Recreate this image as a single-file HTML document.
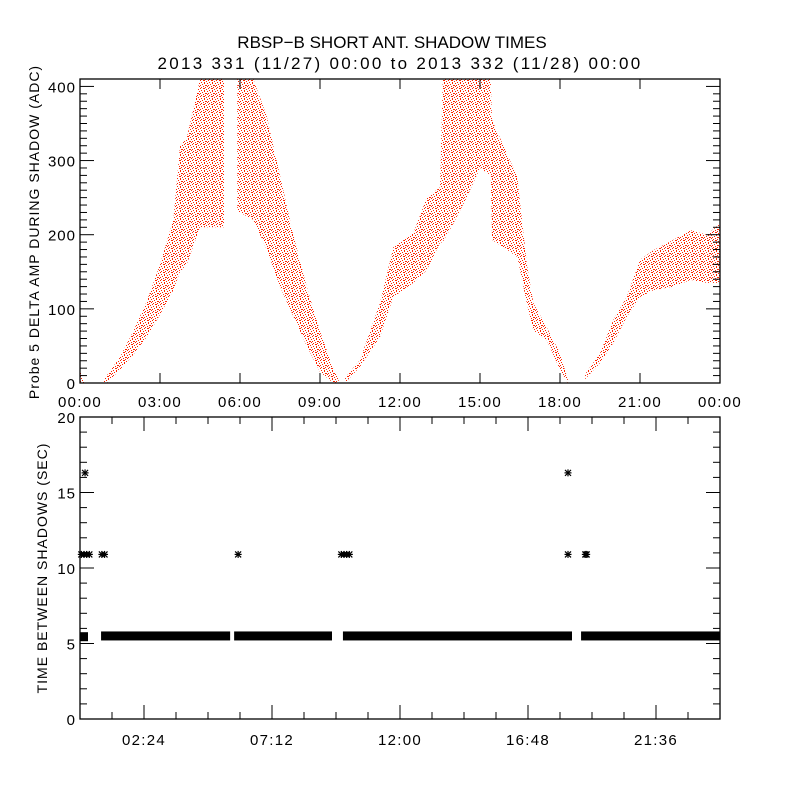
<!DOCTYPE html>
<html><head><meta charset="utf-8"><style>
html,body{margin:0;padding:0;background:#fff;}
svg{display:block;font-family:"Liberation Sans",sans-serif;}
</style></head><body>
<svg id="chart" width="800" height="800" viewBox="0 0 800 800" xmlns="http://www.w3.org/2000/svg">
<defs>
<pattern id="dots" width="8" height="8" patternUnits="userSpaceOnUse">
<g fill="rgb(255,35,0)">
<rect x="0" y="0" width="1" height="1"/><rect x="3" y="0" width="2" height="1"/>
<rect x="6" y="1" width="1" height="1"/><rect x="1" y="2" width="1" height="1"/>
<rect x="4" y="2" width="1" height="2"/><rect x="7" y="3" width="1" height="1"/>
<rect x="2" y="4" width="1" height="1"/><rect x="5" y="5" width="2" height="1"/>
<rect x="0" y="5" width="1" height="1"/><rect x="3" y="6" width="1" height="1"/>
<rect x="7" y="6" width="1" height="1"/><rect x="1" y="7" width="1" height="1"/>
<rect x="5" y="7" width="1" height="1"/>
</g>
</pattern>
</defs>
<text x="392" y="48" font-size="17" text-anchor="middle">RBSP−B SHORT ANT. SHADOW TIMES</text>
<text x="400" y="69" font-size="17" letter-spacing="2.3" text-anchor="middle">2013 331 (11/27) 00:00 to 2013 332 (11/28) 00:00</text>
<g id="topPanel"></g>
<g id="botPanel"></g>
</svg>
<script>
// ---- top panel data (hours, ADC) ----
const seg1T=[0,0.08,0.15];
const seg1Lo=[0,0,0];
const seg1Hi=[15,12,4];
const seg2T=[0.9,1.0,1.5,2.0,2.5,3.0,3.5,3.75,4.0,4.5,5.0,5.4];
const seg2Lo=[0,0,18,38,62,92,125,150,160,210,210,210];
const seg2Hi=[5,10,35,70,110,160,220,320,330,410,410,410];
const seg3T=[5.9,6.0,6.5,7.0,7.5,8.0,8.5,9.0,9.5,9.7];
const seg3Lo=[230,230,220,180,130,90,50,15,0,0];
const seg3Hi=[410,410,410,360,280,200,130,70,20,5];
const seg4T=[9.94,10.5,11.25,11.75,12.5,13.0,13.5,13.6,14.0,14.5,15.0,15.4,15.45,16.0,16.4,16.75,17.0,17.5,18.0,18.3];
const seg4Lo=[0,22,62,116,135,152,189,190,215,250,290,280,193,180,170,108,71,58,18,0];
const seg4Hi=[7,31,108,183,202,250,264,410,410,410,410,410,355,310,278,162,108,75,40,4];
const seg5T=[18.94,19.5,20.0,20.5,21.0,21.5,22.25,22.9,23.5,24.0];
const seg5Lo=[5,27,54,89,116,125,130,139,135,135];
const seg5Hi=[12,40,85,116,166,179,193,206,200,215];
const topYTicks=[0,100,200,300,400];
const topXLabels=["00:00","03:00","06:00","09:00","12:00","15:00","18:00","21:00","00:00"];
// ---- bottom panel data ----
const bandStart=[0,0.79,5.78,9.86,18.79];
const bandEnd=[0.3,5.63,9.45,18.45,24];
const bandValue=[5.45,5.5,5.5,5.5,5.5];
const outT=[0.19,0.05,0.15,0.25,0.35,0.82,0.92,5.93,9.8,9.9,10.0,10.1,18.3,18.3,18.95,19.0];
const outV=[16.3,10.9,10.9,10.9,10.9,10.9,10.9,10.9,10.9,10.9,10.9,10.9,16.3,10.9,10.9,10.9];
const botYTicks=[0,5,10,15,20];
const botXLabels=["02:24","07:12","12:00","16:48","21:36"];

const NS="http://www.w3.org/2000/svg";
function mk(tag,attrs,parent){const e=document.createElementNS(NS,tag);for(const k in attrs)e.setAttribute(k,attrs[k]);parent.appendChild(e);return e;}
const L=80,R=720;
const xs=t=>L+t/24*(R-L);
const TT=79,TB=383,TMAX=410;
const ty=v=>TB-v/TMAX*(TB-TT);
const BT=417,BB=719;
const by=v=>BB-v/20*(BB-BT);

const topG=document.getElementById('topPanel');
const segs=[[seg1T,seg1Lo,seg1Hi],[seg2T,seg2Lo,seg2Hi],[seg3T,seg3Lo,seg3Hi],[seg4T,seg4Lo,seg4Hi],[seg5T,seg5Lo,seg5Hi]];
segs.forEach((s,i)=>{
  const T=s[0],Lo=s[1],Hi=s[2];
  let d="M"+T.map((t,j)=>xs(t).toFixed(1)+","+ty(Hi[j]).toFixed(1)).join("L");
  for(let j=T.length-1;j>=0;j--)d+="L"+xs(T[j]).toFixed(1)+","+ty(Lo[j]).toFixed(1);
  d+="Z";
  const p=mk('path',{d:d,fill:'url(#dots)',stroke:'none'},topG);
  
  
});
const tbox=mk('rect',{x:L,y:TT,width:R-L,height:TB-TT,fill:'none',stroke:'#000','stroke-width':1.3},topG);


for(let v=0;v<=TMAX;v+=10){
  const len=v%100===0?14:7;
  mk('line',{x1:L,x2:L+len,y1:ty(v),y2:ty(v),stroke:'#000'},topG);
  mk('line',{x1:R,x2:R-len,y1:ty(v),y2:ty(v),stroke:'#000'},topG);
}
topYTicks.forEach(v=>{
  const t=mk('text',{x:L-4,y:ty(v)+6,'font-size':15,'letter-spacing':1,'text-anchor':'end'},topG);
  t.textContent=v;
  
  
});
topXLabels.forEach((lab,i)=>{
  const x=xs(i*3);
  mk('line',{x1:x,x2:x,y1:TB,y2:TB-10,stroke:'#000'},topG);
  mk('line',{x1:x,x2:x,y1:TT,y2:TT+10,stroke:'#000'},topG);
  const t=mk('text',{x:x,y:TB+24,'font-size':15,'letter-spacing':1.3,'text-anchor':'middle'},topG);
  t.textContent=lab;
  
  
});
const tyl=mk('text',{x:0,y:0,'font-size':14,'letter-spacing':1,'text-anchor':'middle',transform:'translate(39,232) rotate(-90)'},topG);
tyl.textContent='Probe 5 DELTA AMP DURING SHADOW (ADC)';



const botG=document.getElementById('botPanel');
bandStart.forEach((s,i)=>{
  const r=mk('rect',{x:xs(bandStart[i]),y:by(bandValue[i])-4.5,width:xs(bandEnd[i])-xs(bandStart[i]),height:9,fill:'#000'},botG);
  
  
});
outT.forEach((t,i)=>{
  const cx=xs(t),cy=by(outV[i]);
  const g=mk('g',{stroke:'#000','stroke-width':1.2},botG);
  
  
  mk('line',{x1:cx-3.5,x2:cx+3.5,y1:cy,y2:cy},g);
  mk('line',{x1:cx,x2:cx,y1:cy-3.5,y2:cy+3.5},g);
  mk('line',{x1:cx-3,x2:cx+3,y1:cy-3,y2:cy+3},g);
  mk('line',{x1:cx-3,x2:cx+3,y1:cy+3,y2:cy-3},g);
});
const bbox=mk('rect',{x:L,y:BT,width:R-L,height:BB-BT,fill:'none',stroke:'#000','stroke-width':1.3},botG);


for(let v=0;v<=20;v+=1){
  const len=v%5===0?14:7;
  mk('line',{x1:L,x2:L+len,y1:by(v),y2:by(v),stroke:'#000'},botG);
  mk('line',{x1:R,x2:R-len,y1:by(v),y2:by(v),stroke:'#000'},botG);
}
botYTicks.forEach(v=>{
  const t=mk('text',{x:L-4,y:by(v)+6,'font-size':15,'letter-spacing':1,'text-anchor':'end'},botG);
  t.textContent=v;
  
  
});
for(let k=1;k<20;k++){
  const x=xs(k*1.2);
  const major=(k%4===2);
  const len=major?14:7;
  mk('line',{x1:x,x2:x,y1:BB,y2:BB-len,stroke:'#000'},botG);
  mk('line',{x1:x,x2:x,y1:BT,y2:BT+len,stroke:'#000'},botG);
}
botXLabels.forEach((lab,i)=>{
  const x=xs(2.4+i*4.8);
  const t=mk('text',{x:x,y:BB+26,'font-size':15,'letter-spacing':1.3,'text-anchor':'middle'},botG);
  t.textContent=lab;
  
  
});
const byl=mk('text',{x:0,y:0,'font-size':14,'letter-spacing':1,'text-anchor':'middle',transform:'translate(47,568) rotate(-90)'},botG);
byl.textContent='TIME BETWEEN SHADOWS (SEC)';


</script>
</body></html>
